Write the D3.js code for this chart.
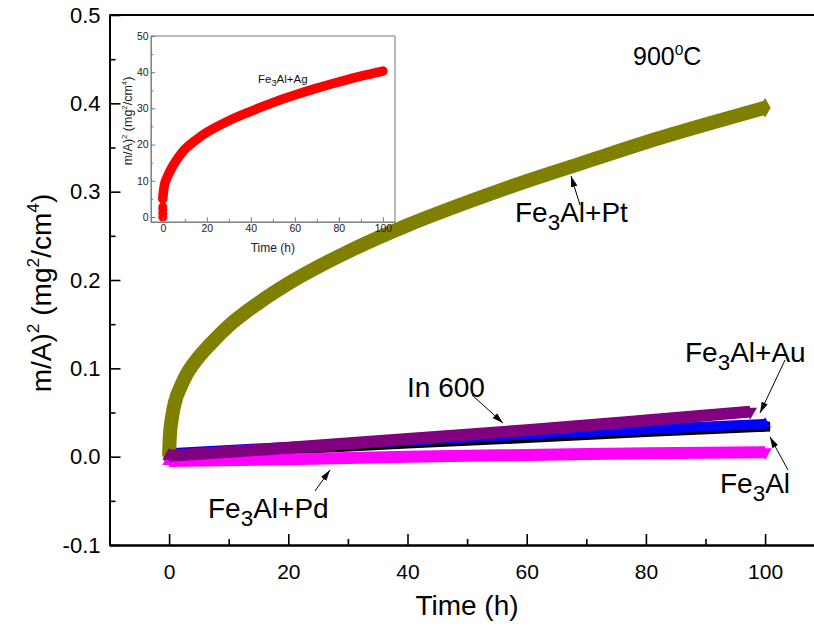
<!DOCTYPE html>
<html>
<head>
<meta charset="utf-8">
<script src="https://cdn.jsdelivr.net/npm/d3@7"></script>
<style>
body { margin: 0; background: #fff; }
svg { display: block; font-family: Arial, "Liberation Sans", sans-serif; }
</style>
</head>
<body>
<div id="chart"></div>
<script>
// ---- data (time in h, gain in mg^2/cm^4) ----
var ptTime = [0, 0.1, 0.5, 1, 2, 3, 5, 7, 10, 15, 20, 30, 40, 50, 60, 70, 80, 90, 100];
var ptGain = [0.0, 0.02, 0.045, 0.062, 0.08, 0.094, 0.113, 0.128, 0.148, 0.174, 0.196, 0.232, 0.262, 0.288, 0.312, 0.334, 0.356, 0.376, 0.395];

var feTime = [0, 20, 40, 60, 80, 100];
var feGain = [0.001, 0.008, 0.015, 0.021, 0.028, 0.034];

var auTime = [0, 20, 40, 60, 80, 100];
var auGain = [0.004, 0.011, 0.018, 0.025, 0.031, 0.037];

var inTime = [0, 20, 40, 60, 80, 97.5];
var inGain = [0.001, 0.010, 0.020, 0.030, 0.041, 0.051];

var pdTime = [0, 20, 40, 60, 80, 100];
var pdGain = [-0.005, -0.003, 0.0, 0.002, 0.004, 0.005];

// inset: Fe3Al+Ag
var agTime = [0, 0.3, 0.6, 1, 2, 4, 6, 10, 14, 20, 30, 40, 50, 60, 70, 80, 90, 100];
var agGain = [5, 7, 8.3, 9.5, 11, 13.5, 15.5, 18.7, 20.8, 23.4, 26.6, 29.2, 31.6, 33.7, 35.6, 37.3, 38.9, 40.3];
var agStartGain = [0, 1, 2, 2.8];

var xMajor = [0, 20, 40, 60, 80, 100];
var xMinor = [10, 30, 50, 70, 90];
var yMajor = [-0.1, 0, 0.1, 0.2, 0.3, 0.4, 0.5];
var yMinor = [-0.05, 0.05, 0.15, 0.25, 0.35, 0.45];
var insetXMajor = [0, 20, 40, 60, 80, 100];
var insetXMinor = [10, 30, 50, 70, 90];
var insetYMajor = [0, 10, 20, 30, 40, 50];
var insetYMinor = [5, 15, 25, 35, 45];

var W = 814, H = 628;
var svg = d3.select("#chart").append("svg")
    .attr("width", W)
    .attr("height", H);

var x = d3.scaleLinear().domain([-10, 110]).range([109.5, 824.7]);
var y = d3.scaleLinear().domain([-0.1, 0.5]).range([545, 15]);

// text with sub/superscripts
function rich(sel, parts, size) {
    var cur = 0;
    parts.forEach(function(p) {
        var fs = size, shift = 0;
        if (p.s === "sub") { fs = size * 0.8; shift = size * 0.3; }
        if (p.s === "sup") { fs = size * 0.62; shift = -size * 0.42; }
        sel.append("tspan")
            .attr("font-size", fs)
            .attr("dy", shift - cur)
            .text(p.t);
        cur = shift;
    });
    return sel;
}

// ---- series (drawn bottom to top) ----
var line = d3.line()
    .x(function(d) { return x(d[0]); })
    .y(function(d) { return y(d[1]); })
    .curve(d3.curveMonotoneX);

var series = [
    {name: "Fe3Al", t: feTime, v: feGain, color: "#000000", w: 10, sym: d3.symbolSquare, size: 100, rot: 0},
    {name: "Fe3Al+Au", t: auTime, v: auGain, color: "#0000ff", w: 10, sym: d3.symbolTriangle, size: 60, rot: 0},
    {name: "Fe3Al+Pt", t: ptTime, v: ptGain, color: "#808000", w: 14, sym: d3.symbolDiamond, size: 110, rot: 0},
    {name: "Fe3Al+Pd", t: pdTime, v: pdGain, color: "#ff00ff", w: 12, sym: d3.symbolTriangle, size: 80, rot: 180},
    {name: "In 600", t: inTime, v: inGain, color: "#800080", w: 12, sym: d3.symbolTriangle, size: 80, rot: 180}
];

var gSeries = svg.append("g");
series.forEach(function(s) {
    var pts = d3.zip(s.t, s.v);
    gSeries.append("path")
        .attr("d", line(pts))
        .attr("fill", "none")
        .attr("stroke", s.color)
        .attr("stroke-width", s.w);
    var last = pts[pts.length - 1];
    gSeries.append("path")
        .attr("d", d3.symbol().type(s.sym).size(s.size)())
        .attr("fill", s.color)
        .attr("transform", "translate(" + x(last[0]) + "," + y(last[1]) + ") rotate(" + s.rot + ")");
    // first reading marker at t=0
    gSeries.append("path")
        .attr("d", d3.symbol().type(s.sym).size(s.size)())
        .attr("fill", s.color)
        .attr("transform", "translate(" + x(pts[0][0]) + "," + y(pts[0][1]) + ")");
});

// ---- main axes ----
function styleAxis(g, width) {
    g.select(".domain").attr("stroke", "#000").attr("stroke-width", width);
    g.selectAll(".tick line").attr("stroke", "#000").attr("stroke-width", 1.6);
    g.selectAll(".tick text").attr("fill", "#000");
}

var gx = svg.append("g").attr("transform", "translate(0," + y(-0.1) + ")");
gx.append("g").call(d3.axisBottom(x).tickValues(xMinor).tickSize(-6).tickSizeOuter(0).tickFormat(""))
    .call(styleAxis, 2);
gx.append("g").call(d3.axisBottom(x).tickValues(xMajor).tickSize(-11).tickSizeOuter(0).tickPadding(19))
    .call(styleAxis, 2)
    .selectAll("text").attr("font-size", 21).attr("font-family", "Arial, 'Liberation Sans', sans-serif");

var gy = svg.append("g").attr("transform", "translate(" + x(-10) + ",0)");
gy.append("g").call(d3.axisLeft(y).tickValues(yMinor).tickSize(-6).tickSizeOuter(0).tickFormat(""))
    .call(styleAxis, 2);
gy.append("g").call(d3.axisLeft(y).tickValues(yMajor).tickSize(-11).tickSizeOuter(0).tickPadding(9)
        .tickFormat(function(d) { return d.toFixed(1); }))
    .call(styleAxis, 2)
    .selectAll("text").attr("font-size", 22).attr("font-family", "Arial, 'Liberation Sans', sans-serif");

// top frame line (right edge is cut off in the original)
svg.append("line")
    .attr("x1", x(-10)).attr("x2", x(110))
    .attr("y1", y(0.5)).attr("y2", y(0.5))
    .attr("stroke", "#000").attr("stroke-width", 2);

// axis titles
svg.append("text")
    .attr("x", 467).attr("y", 615)
    .attr("text-anchor", "middle")
    .attr("font-size", 28)
    .text("Time (h)");

rich(svg.append("text")
    .attr("transform", "translate(51,293) rotate(-90)")
    .attr("text-anchor", "middle"),
    [{t: "m/A)"}, {t: "2", s: "sup"}, {t: " (mg"}, {t: "2", s: "sup"}, {t: "/cm"}, {t: "4", s: "sup"}, {t: ")"}], 28);

// ---- annotations ----
svg.append("defs").append("marker")
    .attr("id", "arrow")
    .attr("viewBox", "0 0 10 6")
    .attr("refX", 10).attr("refY", 3)
    .attr("markerWidth", 11).attr("markerHeight", 7)
    .attr("markerUnits", "userSpaceOnUse")
    .attr("orient", "auto")
    .append("path").attr("d", "M0,0L10,3L0,6Z").attr("fill", "#000");

var labels = [
    {parts: [{t: "Fe"}, {t: "3", s: "sub"}, {t: "Al+Pt"}], x: 515, y: 222, a: [580, 205, 571, 176]},
    {parts: [{t: "In 600"}], x: 407, y: 397, a: [472, 395, 503, 423]},
    {parts: [{t: "Fe"}, {t: "3", s: "sub"}, {t: "Al+Au"}], x: 685, y: 362, a: [785, 360, 760, 413]},
    {parts: [{t: "Fe"}, {t: "3", s: "sub"}, {t: "Al"}], x: 720, y: 493, a: [788, 470, 770, 437]},
    {parts: [{t: "Fe"}, {t: "3", s: "sub"}, {t: "Al+Pd"}], x: 208, y: 518, a: [315, 491, 330, 470]}
];
labels.forEach(function(l) {
    rich(svg.append("text").attr("x", l.x).attr("y", l.y), l.parts, 28);
    svg.append("line")
        .attr("x1", l.a[0]).attr("y1", l.a[1])
        .attr("x2", l.a[2]).attr("y2", l.a[3])
        .attr("stroke", "#000").attr("stroke-width", 1)
        .attr("marker-end", "url(#arrow)");
});

rich(svg.append("text").attr("x", 633).attr("y", 65),
    [{t: "900"}, {t: "0", s: "sup"}, {t: "C"}], 25);

// ---- inset ----
var ix = d3.scaleLinear().domain([-5.5, 105.5]).range([150.7, 395]);
var iy = d3.scaleLinear().domain([-1.3, 50]).range([221.7, 36]);
var inset = svg.append("g");

inset.append("rect")
    .attr("x", ix(-5.5)).attr("y", iy(50))
    .attr("width", ix(105.5) - ix(-5.5)).attr("height", iy(-1.3) - iy(50))
    .attr("fill", "#fff");

var agLine = d3.line()
    .x(function(d) { return ix(d[0]); })
    .y(function(d) { return iy(d[1]); })
    .curve(d3.curveCatmullRom.alpha(0.5));
inset.append("path")
    .attr("d", agLine(d3.zip(agTime, agGain)))
    .attr("fill", "none")
    .attr("stroke", "#ff0000")
    .attr("stroke-width", 9.5)
    .attr("stroke-linecap", "round");
inset.selectAll("circle.start")
    .data(agStartGain)
    .enter()
    .append("circle")
    .attr("class", "start")
    .attr("cx", ix(0))
    .attr("cy", function(d) { return iy(d); })
    .attr("r", 4.5)
    .attr("fill", "#ff0000");

function styleInset(g) {
    g.select(".domain").attr("stroke", "#777").attr("stroke-width", 1);
    g.selectAll(".tick line").attr("stroke", "#777").attr("stroke-width", 1);
    g.selectAll(".tick text").attr("fill", "#222").attr("font-size", 10.5)
        .attr("font-family", "Arial, 'Liberation Sans', sans-serif");
}
var igx = inset.append("g").attr("transform", "translate(0," + iy(-1.3) + ")");
igx.append("g").call(d3.axisBottom(ix).tickValues(insetXMinor).tickSize(-2.5).tickSizeOuter(0).tickFormat("")).call(styleInset);
igx.append("g").call(d3.axisBottom(ix).tickValues(insetXMajor).tickSize(-4.5).tickSizeOuter(0).tickPadding(3)).call(styleInset);
var igy = inset.append("g").attr("transform", "translate(" + ix(-5.5) + ",0)");
igy.append("g").call(d3.axisLeft(iy).tickValues(insetYMinor).tickSize(-2.5).tickSizeOuter(0).tickFormat("")).call(styleInset);
igy.append("g").call(d3.axisLeft(iy).tickValues(insetYMajor).tickSize(-4.5).tickSizeOuter(0).tickPadding(2)).call(styleInset);
inset.append("path")
    .attr("d", "M" + ix(-5.5) + "," + iy(50) + "H" + ix(105.5) + "V" + iy(-1.3))
    .attr("fill", "none").attr("stroke", "#777").attr("stroke-width", 1);

inset.append("text")
    .attr("x", (ix(-5.5) + ix(105.5)) / 2).attr("y", 252)
    .attr("text-anchor", "middle")
    .attr("font-size", 12)
    .attr("fill", "#222")
    .text("Time (h)");
rich(inset.append("text")
    .attr("transform", "translate(132,121) rotate(-90)")
    .attr("text-anchor", "middle")
    .attr("fill", "#222"),
    [{t: "m/A)"}, {t: "2", s: "sup"}, {t: " (mg"}, {t: "2", s: "sup"}, {t: "/cm"}, {t: "4", s: "sup"}, {t: ")"}], 12.5);
rich(inset.append("text").attr("x", 258).attr("y", 83).attr("fill", "#111"),
    [{t: "Fe"}, {t: "3", s: "sub"}, {t: "Al+Ag"}], 11.5);
</script>
</body>
</html>
